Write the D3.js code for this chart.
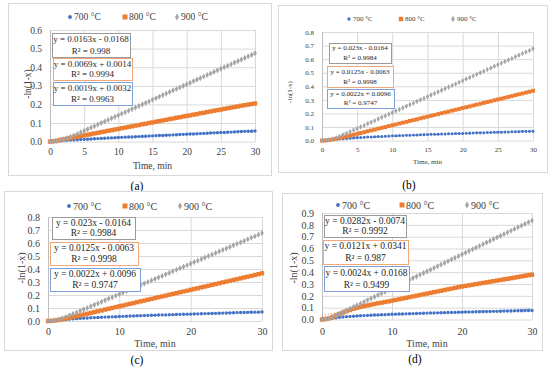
<!DOCTYPE html>
<html>
<head>
<meta charset="utf-8">
<script src="https://cdn.jsdelivr.net/npm/d3@7"></script>
<style>
  html, body { margin: 0; padding: 0; background: #fff; }
  svg { display: block; }
  svg text { font-family: "Liberation Serif", "Times New Roman", serif; }
</style>
</head>
<body>
<svg id="chart" width="550" height="368"></svg>
<script>
// sampling times (min)
const times = [0,0.5,1,1.5,2,2.5,3,3.5,4,4.5,5,5.5,6,6.5,7,7.5,8,8.5,9,9.5,10,
  10.5,11,11.5,12,12.5,13,13.5,14,14.5,15,15.5,16,16.5,17,17.5,18,18.5,19,19.5,20,
  20.5,21,21.5,22,22.5,23,23.5,24,24.5,25,25.5,26,26.5,27,27.5,28,28.5,29,29.5,30];

const seriesNames = ["700 °C", "800 °C", "900 °C"];
const seriesColors = ["#4472C4", "#ED7D31", "#A5A5A5"];

// (a)
const a700 = [0,0.001,0.003,0.004,0.006,0.007,0.008,0.009,0.010,0.011,0.012,
  0.013,0.014,0.015,0.016,0.017,0.018,0.019,0.020,0.021,0.022,
  0.023,0.024,0.025,0.025,0.026,0.027,0.028,0.029,0.030,0.031,
  0.032,0.033,0.033,0.034,0.035,0.036,0.037,0.038,0.039,0.040,
  0.041,0.041,0.042,0.043,0.044,0.045,0.046,0.047,0.048,0.049,
  0.049,0.050,0.051,0.052,0.053,0.054,0.055,0.056,0.056,0.057];
const a800 = [0,0.002,0.005,0.009,0.012,0.016,0.019,0.023,0.026,0.030,0.033,
  0.037,0.040,0.044,0.047,0.051,0.054,0.058,0.061,0.065,0.068,
  0.072,0.075,0.079,0.082,0.086,0.089,0.093,0.096,0.100,0.103,
  0.107,0.110,0.114,0.117,0.121,0.124,0.128,0.131,0.135,0.138,
  0.141,0.145,0.148,0.152,0.155,0.159,0.162,0.166,0.169,0.172,
  0.176,0.179,0.183,0.186,0.189,0.193,0.196,0.199,0.202,0.205];
const a900 = [0,0.001,0.003,0.007,0.012,0.018,0.025,0.033,0.041,0.050,0.058,
  0.066,0.075,0.083,0.091,0.100,0.108,0.116,0.125,0.133,0.141,
  0.150,0.158,0.166,0.175,0.183,0.191,0.200,0.208,0.216,0.225,
  0.233,0.241,0.250,0.258,0.266,0.275,0.283,0.291,0.300,0.308,
  0.316,0.325,0.333,0.341,0.350,0.358,0.366,0.375,0.383,0.391,
  0.400,0.408,0.416,0.425,0.433,0.441,0.450,0.458,0.466,0.475];
const aSlopes = [0.0019, 0.0069, 0.0163];
const aIntercepts = [0.0032, 0.0014, -0.0168];
const aEquations = ["y = 0.0019x + 0.0032", "y = 0.0069x + 0.0014", "y = 0.0163x - 0.0168"];
const aR2 = ["R² = 0.9963", "R² = 0.9994", "R² = 0.998"];

// (b) and (c) show the same data
const b700 = [0,0.002,0.005,0.008,0.010,0.012,0.014,0.016,0.018,0.020,0.022,
  0.023,0.025,0.026,0.027,0.029,0.030,0.031,0.032,0.033,0.035,
  0.036,0.037,0.038,0.039,0.040,0.041,0.042,0.043,0.044,0.045,
  0.046,0.047,0.047,0.048,0.049,0.050,0.051,0.052,0.052,0.053,
  0.054,0.055,0.056,0.057,0.057,0.058,0.059,0.060,0.061,0.062,
  0.062,0.063,0.064,0.065,0.065,0.066,0.067,0.068,0.068,0.069];
const b800 = [0,0.001,0.004,0.008,0.013,0.019,0.025,0.031,0.037,0.043,0.050,
  0.056,0.062,0.069,0.075,0.081,0.088,0.094,0.100,0.107,0.113,
  0.119,0.126,0.132,0.138,0.145,0.151,0.157,0.164,0.170,0.176,
  0.183,0.189,0.195,0.202,0.208,0.214,0.221,0.227,0.233,0.240,
  0.246,0.252,0.259,0.265,0.271,0.278,0.284,0.290,0.297,0.303,
  0.309,0.316,0.322,0.328,0.335,0.341,0.347,0.354,0.360,0.367];
const b900 = [0,0.002,0.006,0.012,0.021,0.031,0.042,0.053,0.065,0.077,0.088,
  0.100,0.112,0.124,0.135,0.147,0.159,0.171,0.182,0.194,0.206,
  0.218,0.229,0.241,0.253,0.265,0.276,0.288,0.300,0.312,0.323,
  0.335,0.347,0.359,0.370,0.382,0.394,0.406,0.417,0.429,0.441,
  0.453,0.464,0.476,0.488,0.500,0.511,0.523,0.535,0.547,0.558,
  0.570,0.582,0.594,0.605,0.617,0.629,0.641,0.652,0.664,0.676];
const bSlopes = [0.0022, 0.0125, 0.023];
const bIntercepts = [0.0096, -0.0063, -0.0164];
const bEquations = ["y = 0.0022x + 0.0096", "y = 0.0125x - 0.0063", "y = 0.023x - 0.0164"];
const bR2 = ["R² = 0.9747", "R² = 0.9998", "R² = 0.9984"];

// (d)
const d700 = [0,0.003,0.007,0.011,0.015,0.018,0.021,0.024,0.026,0.028,0.030,
  0.032,0.033,0.035,0.036,0.038,0.039,0.040,0.041,0.043,0.044,
  0.045,0.046,0.047,0.048,0.049,0.050,0.051,0.052,0.053,0.054,
  0.055,0.055,0.056,0.057,0.058,0.059,0.060,0.060,0.061,0.062,
  0.063,0.063,0.064,0.065,0.066,0.066,0.067,0.068,0.069,0.069,
  0.070,0.071,0.071,0.072,0.073,0.074,0.074,0.075,0.076,0.076];
const d800 = [0,0.004,0.010,0.021,0.033,0.046,0.058,0.069,0.080,0.090,0.099,
  0.106,0.113,0.119,0.125,0.131,0.137,0.142,0.148,0.153,0.159,
  0.165,0.171,0.177,0.183,0.189,0.195,0.201,0.207,0.213,0.219,
  0.225,0.231,0.237,0.243,0.249,0.255,0.261,0.267,0.273,0.279,
  0.284,0.289,0.294,0.299,0.304,0.309,0.314,0.319,0.324,0.329,
  0.334,0.339,0.344,0.349,0.354,0.359,0.364,0.369,0.374,0.378];
const d900 = [0,0.003,0.010,0.021,0.034,0.048,0.062,0.077,0.091,0.105,0.120,
  0.134,0.148,0.163,0.177,0.191,0.206,0.220,0.234,0.249,0.263,
  0.277,0.292,0.306,0.320,0.335,0.349,0.363,0.378,0.392,0.406,
  0.421,0.435,0.449,0.464,0.478,0.492,0.507,0.521,0.535,0.550,
  0.564,0.578,0.593,0.607,0.621,0.636,0.650,0.664,0.679,0.693,
  0.707,0.722,0.736,0.750,0.765,0.779,0.793,0.808,0.822,0.836];
const dSlopes = [0.0024, 0.0121, 0.0282];
const dIntercepts = [0.0168, 0.0341, -0.0074];
const dEquations = ["y = 0.0024x + 0.0168", "y = 0.0121x + 0.0341", "y = 0.0282x - 0.0074"];
const dR2 = ["R² = 0.9499", "R² = 0.987", "R² = 0.9992"];

const xTitle = "Time, min";
const yTitle = "-ln(1-x)";

// layout of the four panels
const panels = [
  { label: "(a)", lx: 137, ly: 186, series: [a700, a800, a900], slopes: aSlopes, icpt: aIntercepts,
    eq: aEquations, r2: aR2, ymax: 0.6, xstep: 5, font: 9.5, boxFont: 9, msize: 1,
    border: [8, 3, 263, 172], x0: 50, x1: 255, yb: 141.6, yt: 30, xpad: 7,
    legY: 17, legX: [70, 125, 177], ytx: 28, yty: 84, xty: 166,
    boxes: [[53, 82, 79, 23], [53, 58, 79, 22], [52, 33, 78, 24]] },
  { label: "(b)", lx: 409, ly: 185, series: [b700, b800, b900], slopes: bSlopes, icpt: bIntercepts,
    eq: bEquations, r2: bR2, ymax: 0.8, xstep: 5, font: 7, boxFont: 7, msize: 0.8,
    border: [278, 5, 269, 167], x0: 322, x1: 533, yb: 140.6, yt: 32, xpad: 6,
    legY: 19, legX: [349, 401, 453], ytx: 290, yty: 92, xty: 162,
    boxes: [[327, 89, 67, 19], [327, 66, 66, 21], [329, 43, 62, 20]] },
  { label: "(c)", lx: 137, ly: 360, series: [b700, b800, b900], slopes: bSlopes, icpt: bIntercepts,
    eq: bEquations, r2: bR2, ymax: 0.8, xstep: 10, font: 10, boxFont: 9.5, msize: 1,
    border: [4, 191, 268, 159], x0: 48, x1: 262, yb: 321, yt: 217, xpad: 7,
    legY: 206, legX: [69, 125, 180], ytx: 21, yty: 268, xty: 343,
    boxes: [[50, 268, 90, 23], [50, 242, 88, 23], [52, 217, 83, 22]] },
  { label: "(d)", lx: 415, ly: 359, series: [d700, d800, d900], slopes: dSlopes, icpt: dIntercepts,
    eq: dEquations, r2: dR2, ymax: 0.9, xstep: 10, font: 10, boxFont: 9.5, msize: 1,
    border: [282, 193, 260, 157], x0: 322, x1: 532, yb: 319.5, yt: 213, xpad: 8,
    legY: 205, legX: [338, 402, 467], ytx: 293, yty: 268, xty: 343,
    boxes: [[324, 266, 85, 25], [323, 240, 85, 24], [324, 215, 82, 22]] }
];

const boxStroke = ["#7f9fd8", "#f2a875", "#9a9a9a"];
const symbolTypes = [d3.symbolCircle, d3.symbolSquare, d3.symbolDiamond];
const symbolSizes = [9, 19, 11];
const serif = "'Liberation Serif', 'Times New Roman', serif";

const svg = d3.select("#chart");
svg.append("rect").attr("width", 550).attr("height", 368).attr("fill", "#fff");

panels.forEach((p, pi) => {
  const g = svg.append("g").attr("font-family", serif);

  g.append("rect")
    .attr("x", p.border[0] + 0.5).attr("y", p.border[1] + 0.5)
    .attr("width", p.border[2]).attr("height", p.border[3])
    .attr("fill", "#fff").attr("stroke", "#d9d9d9");

  const x = d3.scaleLinear().domain([0, 30]).range([p.x0, p.x1]);
  const y = d3.scaleLinear().domain([0, p.ymax]).range([p.yb, p.yt]);

  const yTicks = d3.range(0, p.ymax + 1e-9, 0.1);
  const xTicks = d3.range(0, 30 + 1e-9, p.xstep);

  const yAxis = g.append("g")
    .attr("transform", `translate(${p.x0},0)`)
    .call(d3.axisLeft(y).tickValues(yTicks).tickFormat(d3.format(".1f"))
      .tickSize(-(p.x1 - p.x0)).tickPadding(8));
  const xAxis = g.append("g")
    .attr("transform", `translate(0,${p.yb})`)
    .call(d3.axisBottom(x).tickValues(xTicks).tickFormat(d3.format("d"))
      .tickSize(-(p.yb - p.yt)).tickPadding(p.xpad));

  [yAxis, xAxis].forEach(ax => {
    ax.attr("font-family", serif).attr("font-size", p.font);
    ax.select(".domain").remove();
    ax.selectAll(".tick line").attr("stroke", "#d9d9d9");
    ax.selectAll(".tick text").attr("fill", "#404040");
  });
  xAxis.selectAll(".tick").filter(d => d === 0).select("line").attr("stroke", "#bfbfbf");

  // axis titles
  g.append("text")
    .attr("transform", `translate(${p.ytx},${p.yty}) rotate(-90)`)
    .attr("text-anchor", "middle").attr("dominant-baseline", "central")
    .attr("font-size", p.font).attr("fill", "#404040")
    .text(yTitle);
  g.append("text")
    .attr("x", (p.x0 + p.x1) / 2).attr("y", p.xty)
    .attr("text-anchor", "middle").attr("dominant-baseline", "central")
    .attr("font-size", p.font).attr("fill", "#404040")
    .text(xTitle);

  // trendlines (dotted, under markers)
  const clipId = "clip" + pi;
  g.append("clipPath").attr("id", clipId).append("rect")
    .attr("x", p.x0).attr("y", p.yt).attr("width", p.x1 - p.x0).attr("height", p.yb - p.yt);
  p.slopes.forEach((s, i) => {
    g.append("line")
      .attr("clip-path", `url(#${clipId})`)
      .attr("x1", x(0)).attr("y1", y(p.icpt[i]))
      .attr("x2", x(30)).attr("y2", y(p.icpt[i] + s * 30))
      .attr("stroke", seriesColors[i]).attr("stroke-width", 1)
      .attr("stroke-dasharray", "1,2");
  });

  // markers
  p.series.forEach((vals, i) => {
    const sym = d3.symbol().type(symbolTypes[i]).size(symbolSizes[i] * p.msize);
    g.append("g").selectAll("path")
      .data(vals.map((v, k) => [times[k], v]))
      .join("path")
      .attr("transform", d => `translate(${x(d[0])},${y(d[1])})`)
      .attr("d", sym)
      .attr("fill", seriesColors[i]);
  });

  // legend
  seriesNames.forEach((name, i) => {
    const lx = p.legX[i];
    g.append("path")
      .attr("transform", `translate(${lx},${p.legY})`)
      .attr("d", d3.symbol().type(symbolTypes[i]).size(symbolSizes[i] * p.msize * 1.3)())
      .attr("fill", seriesColors[i]);
    g.append("text")
      .attr("x", lx + 4).attr("y", p.legY)
      .attr("dominant-baseline", "central")
      .attr("font-size", p.font).attr("fill", "#404040")
      .text(name);
  });

  // equation boxes
  p.boxes.forEach((b, i) => {
    g.append("rect")
      .attr("x", b[0] + 0.5).attr("y", b[1] + 0.5)
      .attr("width", b[2]).attr("height", b[3])
      .attr("fill", "#fff").attr("stroke", boxStroke[i]).attr("stroke-width", 1);
    g.append("text")
      .attr("x", b[0] + b[2] / 2).attr("y", b[1] + b[3] * 0.27)
      .attr("text-anchor", "middle").attr("dominant-baseline", "central")
      .attr("font-size", p.boxFont).attr("fill", "#262626")
      .text(p.eq[i]);
    g.append("text")
      .attr("x", b[0] + b[2] / 2).attr("y", b[1] + b[3] * 0.74)
      .attr("text-anchor", "middle").attr("dominant-baseline", "central")
      .attr("font-size", p.boxFont).attr("fill", "#262626")
      .text(p.r2[i]);
  });

  // panel label
  svg.append("text")
    .attr("x", p.lx).attr("y", p.ly)
    .attr("text-anchor", "middle").attr("dominant-baseline", "central")
    .attr("font-family", serif)
    .attr("font-size", 11.5).attr("fill", "#000")
    .text(p.label);
});
</script>
</body>
</html>
